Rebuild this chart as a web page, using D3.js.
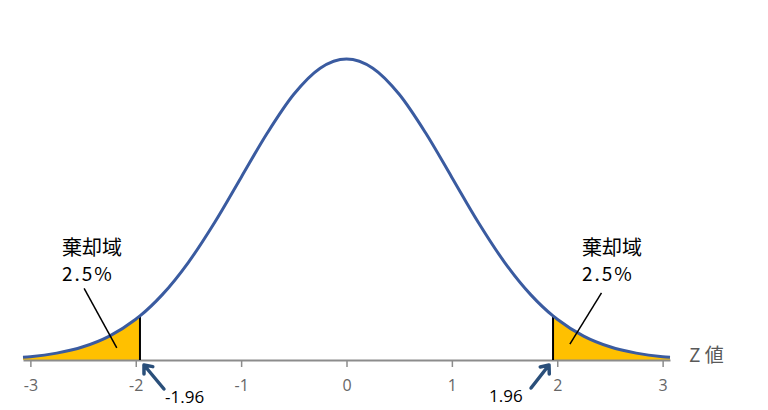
<!DOCTYPE html>
<html>
<head>
<meta charset="utf-8">
<script src="https://cdn.jsdelivr.net/npm/d3@7"></script>
<style>
  body { margin: 0; background: #fff; }
  svg { display: block; }
</style>
</head>
<body>
<svg id="chart" width="768" height="410"></svg>
<script>
// z values and density
const zValues = [-3.07, -3, -2.75, -2.5, -2.25, -2, -1.96, -1.75, -1.5, -1.25, -1, -0.75, -0.5, -0.25, 0,
                 0.25, 0.5, 0.75, 1, 1.25, 1.5, 1.75, 1.96, 2, 2.25, 2.5, 2.75, 3, 3.07];
const density = [0.0036, 0.0044, 0.0091, 0.0175, 0.0317, 0.0540, 0.0584, 0.0863, 0.1295, 0.1826, 0.2420, 0.3011, 0.3521, 0.3867, 0.3989,
                 0.3867, 0.3521, 0.3011, 0.2420, 0.1826, 0.1295, 0.0863, 0.0584, 0.0540, 0.0317, 0.0175, 0.0091, 0.0044, 0.0036];
const tickValues = [-3, -2, -1, 0, 1, 2, 3];
const criticals = [-1.96, 1.96];
const criticalLabels = ["-1.96", "1.96"];
const regionTitle = ["棄却域", "棄却域"];
const regionPct = ["2.5%", "2.5%"];
// leader line ends, in (z, density)
const leaderFrom = [[-2.49, 0.095], [2.42, 0.089]];
const leaderTo = [[-2.18, 0.016], [2.12, 0.021]];
const axisTitle = "Z 値";

const svg = d3.select("#chart");
const x = d3.scaleLinear().domain([-3.07, 3.07]).range([23, 670]);
const y = d3.scaleLinear().domain([0, 0.3989]).range([360, 59]);

const pts = zValues.map((z, i) => [z, density[i]]);

// shaded tails
const area = d3.area()
  .x(d => x(d[0])).y0(y(0)).y1(d => y(d[1]))
  .curve(d3.curveMonotoneX);
svg.append("path")
  .datum(pts.filter(d => d[0] <= criticals[0]))
  .attr("d", area).attr("fill", "#ffc000");
svg.append("path")
  .datum(pts.filter(d => d[0] >= criticals[1]))
  .attr("d", area).attr("fill", "#ffc000");

// axis
const axis = svg.append("g")
  .attr("transform", "translate(0," + y(0) + ")")
  .call(d3.axisBottom(x).tickValues(tickValues).tickSize(7).tickSizeOuter(0).tickFormat(d => String(d)));
axis.select(".domain").attr("stroke", "#8c8c8c").attr("stroke-width", 2);
axis.selectAll(".tick line").attr("stroke", "#8c8c8c").attr("stroke-width", 1.5);
axis.selectAll(".tick text")
  .attr("y", 20).attr("dy", "0.71em")
  .attr("fill", "#666")
  .style("font-family", "'Open Sans', 'Noto Sans', sans-serif")
  .style("font-size", "16px");

svg.append("text")
  .attr("x", 689).attr("y", 362)
  .attr("fill", "#595959")
  .style("font-family", "'Noto Sans CJK JP', sans-serif")
  .style("font-size", "19px")
  .text(axisTitle);

// critical value lines
svg.selectAll(".crit").data(criticals).enter().append("line")
  .attr("x1", d => x(d)).attr("x2", d => x(d))
  .attr("y1", y(0)).attr("y2", d => y(density[zValues.indexOf(d)]))
  .attr("stroke", "#000").attr("stroke-width", 2);

// curve
svg.append("path")
  .datum(pts)
  .attr("d", d3.line().x(d => x(d[0])).y(d => y(d[1])).curve(d3.curveMonotoneX))
  .attr("fill", "none").attr("stroke", "#3a5ba0").attr("stroke-width", 3);

// leader lines
leaderFrom.forEach((p, i) => {
  svg.append("line")
    .attr("x1", x(p[0])).attr("y1", y(p[1]))
    .attr("x2", x(leaderTo[i][0])).attr("y2", y(leaderTo[i][1]))
    .attr("stroke", "#000").attr("stroke-width", 1.5);
});

// region labels
const labelX = [62, 582];
regionTitle.forEach((t, i) => {
  svg.append("text")
    .attr("x", labelX[i]).attr("y", 255)
    .style("font-family", "'Noto Sans CJK JP', sans-serif")
    .style("font-size", "20px")
    .text(t);
  svg.append("text")
    .attr("x", labelX[i]).attr("y", 281)
    .style("font-family", "'Noto Sans CJK JP', sans-serif")
    .style("font-size", "19px")
    .attr("letter-spacing", "2px")
    .text(regionPct[i]);
});

// arrows to critical values
const arrowOff = [[20, 24], [-18, 23]];
criticals.forEach((c, i) => {
  const hx = x(c) + (i === 0 ? 4 : -4), hy = y(0) + 5;
  const tx = hx + arrowOff[i][0], ty = hy + arrowOff[i][1];
  const ang = Math.atan2(hy - ty, hx - tx);
  const w = 9;
  const a1 = ang + Math.PI * 0.78, a2 = ang - Math.PI * 0.78;
  const path = d3.path();
  path.moveTo(tx, ty); path.lineTo(hx, hy);
  path.moveTo(hx + w * Math.cos(a1), hy + w * Math.sin(a1));
  path.lineTo(hx, hy);
  path.lineTo(hx + w * Math.cos(a2), hy + w * Math.sin(a2));
  svg.append("path").attr("d", path.toString())
    .attr("fill", "none").attr("stroke", "#2a4f7a").attr("stroke-width", 3.5)
    .attr("stroke-linecap", "round").attr("stroke-linejoin", "round");
});

svg.append("text")
  .attr("x", 165).attr("y", 403)
  .style("font-family", "'Open Sans', 'Noto Sans', sans-serif")
  .style("font-size", "17px")
  .text(criticalLabels[0]);
svg.append("text")
  .attr("x", 489).attr("y", 402)
  .style("font-family", "'Open Sans', 'Noto Sans', sans-serif")
  .style("font-size", "17px")
  .text(criticalLabels[1]);
</script>
</body>
</html>
